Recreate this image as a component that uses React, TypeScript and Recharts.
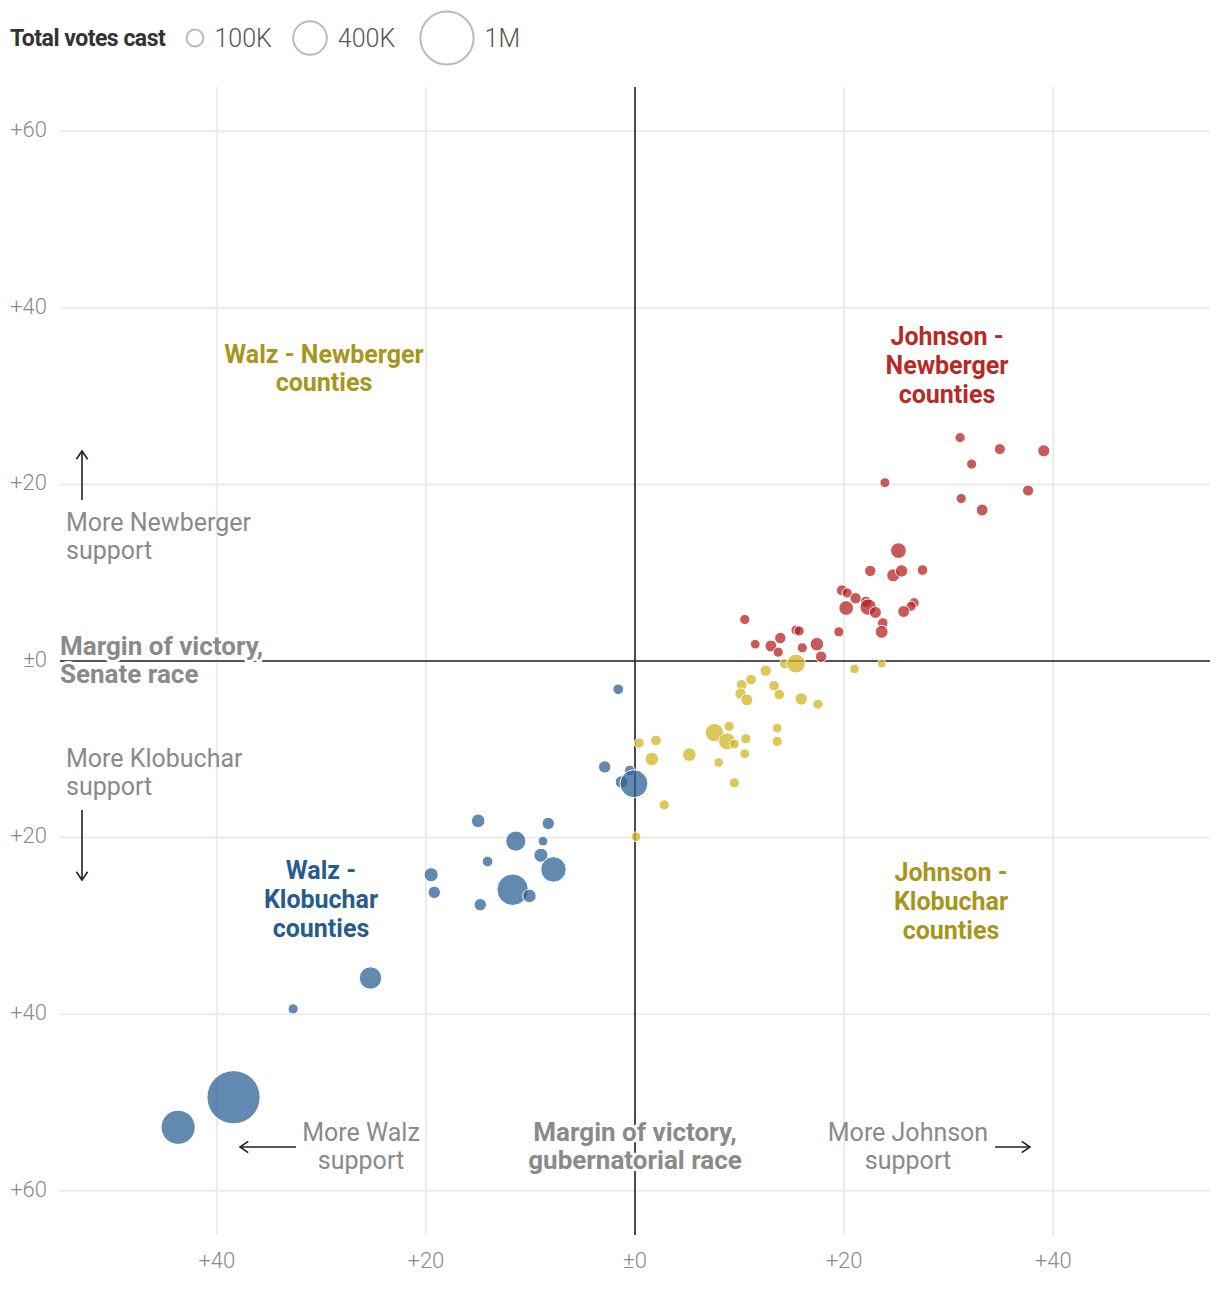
import React from 'react';
import { ScatterChart, Scatter, XAxis, YAxis, ZAxis, CartesianGrid, ReferenceLine } from 'recharts';

const xTicks = [-40, -20, 0, 20, 40];
const yTicks = [-60, -40, -20, 0, 20, 40, 60];

const legendVotes = [100000, 400000, 1000000];
const legendLabels = ['100K', '400K', '1M'];

// [gubernatorial margin (+ = Johnson), senate margin (+ = Newberger), total votes]
const johnsonNewberger = [
  [31.1, 25.3, 44000], [34.9, 24.0, 52000], [39.1, 23.8, 62000], [32.2, 22.3, 44000],
  [23.9, 20.2, 42000], [31.2, 18.4, 44000], [37.6, 19.3, 52000], [33.2, 17.1, 60000],
  [25.2, 12.5, 105000], [22.5, 10.2, 55000], [24.7, 9.7, 72000], [25.5, 10.2, 65000],
  [27.5, 10.3, 48000], [19.8, 8.0, 52000], [20.3, 7.7, 44000], [21.1, 7.1, 55000],
  [20.2, 6.0, 92000], [22.1, 6.7, 55000], [22.3, 6.1, 115000], [23.0, 5.5, 60000],
  [23.7, 4.3, 48000], [23.6, 3.3, 70000], [26.7, 6.6, 44000], [26.4, 6.2, 44000],
  [25.7, 5.6, 60000], [10.5, 4.7, 44000], [19.5, 3.3, 44000], [15.4, 3.5, 44000],
  [15.7, 3.4, 44000], [13.9, 2.6, 55000], [11.5, 1.9, 40000], [13.0, 1.7, 60000],
  [13.7, 1.0, 44000], [16.0, 1.5, 44000], [17.4, 1.9, 78000], [17.8, 0.5, 55000],
];

const johnsonKlobuchar = [
  [14.3, -0.3, 44000], [15.4, -0.3, 150000], [12.5, -1.1, 55000], [11.1, -2.1, 48000],
  [10.2, -2.7, 48000], [10.1, -3.7, 55000], [10.7, -4.4, 60000], [13.3, -2.8, 48000],
  [13.8, -3.8, 48000], [15.9, -4.3, 65000], [17.5, -4.9, 44000], [13.6, -7.6, 40000],
  [13.6, -9.1, 44000], [7.6, -8.1, 142000], [9.0, -7.4, 44000], [8.8, -9.1, 122000],
  [9.5, -9.4, 40000], [10.6, -8.8, 44000], [10.5, -10.5, 40000], [8.0, -11.5, 40000],
  [9.5, -13.8, 44000], [5.2, -10.6, 78000], [2.0, -9.0, 48000], [0.4, -9.3, 44000],
  [1.6, -11.1, 78000], [2.8, -16.3, 44000], [0.1, -19.9, 40000], [21.0, -0.9, 40000],
  [23.6, -0.3, 33000],
];

const walzKlobuchar = [
  [-1.6, -3.2, 48000], [-2.9, -12.0, 65000], [-0.5, -12.4, 48000], [-1.3, -13.7, 65000],
  [-0.1, -13.9, 330000], [-15.0, -18.1, 78000], [-8.3, -18.4, 65000], [-11.4, -20.4, 172000],
  [-8.8, -20.4, 40000], [-9.0, -22.0, 84000], [-7.8, -23.6, 275000], [-14.1, -22.7, 48000],
  [-19.5, -24.2, 84000], [-19.2, -26.2, 65000], [-11.7, -25.9, 420000], [-10.1, -26.6, 78000],
  [-14.8, -27.6, 65000], [-25.3, -35.9, 212000], [-32.7, -39.4, 44000], [-38.4, -49.4, 1200000],
  [-43.7, -52.8, 495000],
];

const toPoints = (rows: number[][]) => rows.map(([x, y, votes]) => ({ x, y, votes }));

const FONT = 'Roboto, "Liberation Sans", Arial, sans-serif';
const GRAY = '#8a8a8a';
const MAX_R = 26.6; // radius of the 1M circle
const fmt = (v: number) => (v === 0 ? '±0' : '+' + Math.abs(v));

const halo = { stroke: '#fff', strokeWidth: 6, paintOrder: 'stroke' as const, strokeLinejoin: 'round' as const };

function Lines({ x, y, lines, color, size = 25, weight = 700, anchor = 'middle', lh = 29, style = {} }: any) {
  return (
    <text x={x} y={y} fill={color} fontSize={size} fontWeight={weight} textAnchor={anchor} fontFamily={FONT} style={style}>
      {lines.map((l: string, i: number) => (
        <tspan key={i} x={x} dy={i === 0 ? 0 : lh}>{l}</tspan>
      ))}
    </text>
  );
}

function Arrow({ x1, y1, x2, y2 }: any) {
  const a = Math.atan2(y2 - y1, x2 - x1);
  const h = 10;
  const p1 = [x2 - h * Math.cos(a - 0.6), y2 - h * Math.sin(a - 0.6)];
  const p2 = [x2 - h * Math.cos(a + 0.6), y2 - h * Math.sin(a + 0.6)];
  return (
    <g stroke="#222" strokeWidth={1.6} fill="none">
      <line x1={x1} y1={y1} x2={x2} y2={y2} />
      <polyline points={`${p1[0]},${p1[1]} ${x2},${y2} ${p2[0]},${p2[1]}`} />
    </g>
  );
}

function Annotations() {
  return (
    <svg width={1220} height={1292} style={{ position: 'absolute', left: 0, top: 0, pointerEvents: 'none' }}>
      {/* legend */}
      <text x={10} y={46} fontSize={23} fontWeight={700} fill="#333" fontFamily={FONT} letterSpacing={-0.5}>Total votes cast</text>
      {legendVotes.map((v, i) => {
        const cx = [195, 310, 447][i];
        const r = MAX_R * Math.sqrt(v / 1000000);
        return (
          <g key={v}>
            <circle cx={cx} cy={38} r={r} fill="none" stroke="#bbb" strokeWidth={2} />
            <text x={cx + r + 11} y={47} fontSize={25} fontWeight={300} fill="#555" fontFamily={FONT}>{legendLabels[i]}</text>
          </g>
        );
      })}

      {/* quadrant labels */}
      <Lines x={324} y={363} lines={['Walz - Newberger', 'counties']} color="#a8961c" lh={28} />
      <Lines x={947} y={345} lines={['Johnson -', 'Newberger', 'counties']} color="#b82a25" />
      <Lines x={321} y={879} lines={['Walz -', 'Klobuchar', 'counties']} color="#275d8e" />
      <Lines x={951} y={881} lines={['Johnson -', 'Klobuchar', 'counties']} color="#a8961c" />

      {/* axis annotations */}
      <Arrow x1={82} y1={500} x2={82} y2={451} />
      <Lines x={66} y={531} lines={['More Newberger', 'support']} color={GRAY} weight={400} anchor="start" lh={28} />
      <Lines x={60} y={655} lines={['Margin of victory,', 'Senate race']} color={GRAY} size={26} anchor="start" lh={28} style={halo} />
      <Lines x={66} y={767} lines={['More Klobuchar', 'support']} color={GRAY} weight={400} anchor="start" lh={28} />
      <Arrow x1={82} y1={810} x2={82} y2={880} />

      <Arrow x1={296} y1={1147} x2={240} y2={1147} />
      <Lines x={361} y={1141} lines={['More Walz', 'support']} color={GRAY} weight={400} lh={28} />
      <Lines x={635} y={1141} lines={['Margin of victory,', 'gubernatorial race']} color={GRAY} size={26} lh={28} style={halo} />
      <Lines x={908} y={1141} lines={['More Johnson', 'support']} color={GRAY} weight={400} lh={28} />
      <Arrow x1={995} y1={1147} x2={1030} y2={1147} />
    </svg>
  );
}

export default function App() {
  return (
    <div style={{ position: 'relative', width: 1220, height: 1292, background: '#fff' }}>
      <style>{'body{margin:0}'}</style>
      <ScatterChart width={1220} height={1292} margin={{ top: 87, right: 10, bottom: 0, left: 0 }}>
        <CartesianGrid stroke="#ebebeb" strokeWidth={2} horizontalValues={yTicks} verticalValues={xTicks} />
        <XAxis
          type="number"
          dataKey="x"
          domain={[-55, 55]}
          ticks={xTicks}
          tickFormatter={fmt}
          axisLine={false}
          tickLine={false}
          height={57}
          tickMargin={11}
          tick={{ fill: GRAY, fontSize: 22, fontFamily: FONT, fontWeight: 300 }}
        />
        <YAxis
          type="number"
          dataKey="y"
          domain={[-65, 65]}
          ticks={yTicks}
          tickFormatter={fmt}
          axisLine={false}
          tickLine={false}
          width={60}
          tickMargin={7}
          tick={{ fill: GRAY, fontSize: 22, fontFamily: FONT, fontWeight: 300, dy: -2 }}
        />
        <ZAxis type="number" dataKey="votes" domain={[0, 1000000]} range={[0, Math.PI * MAX_R * MAX_R]} />
        <ReferenceLine x={0} stroke="#222" strokeWidth={1.6} />
        <ReferenceLine y={0} stroke="#222" strokeWidth={1.6} />
        <Scatter data={toPoints(johnsonKlobuchar)} fill="#d0b523" fillOpacity={0.75} stroke="#fff" strokeWidth={1} isAnimationActive={false} />
        <Scatter data={toPoints(johnsonNewberger)} fill="#b52323" fillOpacity={0.75} stroke="#fff" strokeWidth={1} isAnimationActive={false} />
        <Scatter data={toPoints(walzKlobuchar)} fill="#2d6195" fillOpacity={0.75} stroke="#fff" strokeWidth={1} isAnimationActive={false} />
      </ScatterChart>
      <Annotations />
    </div>
  );
}
